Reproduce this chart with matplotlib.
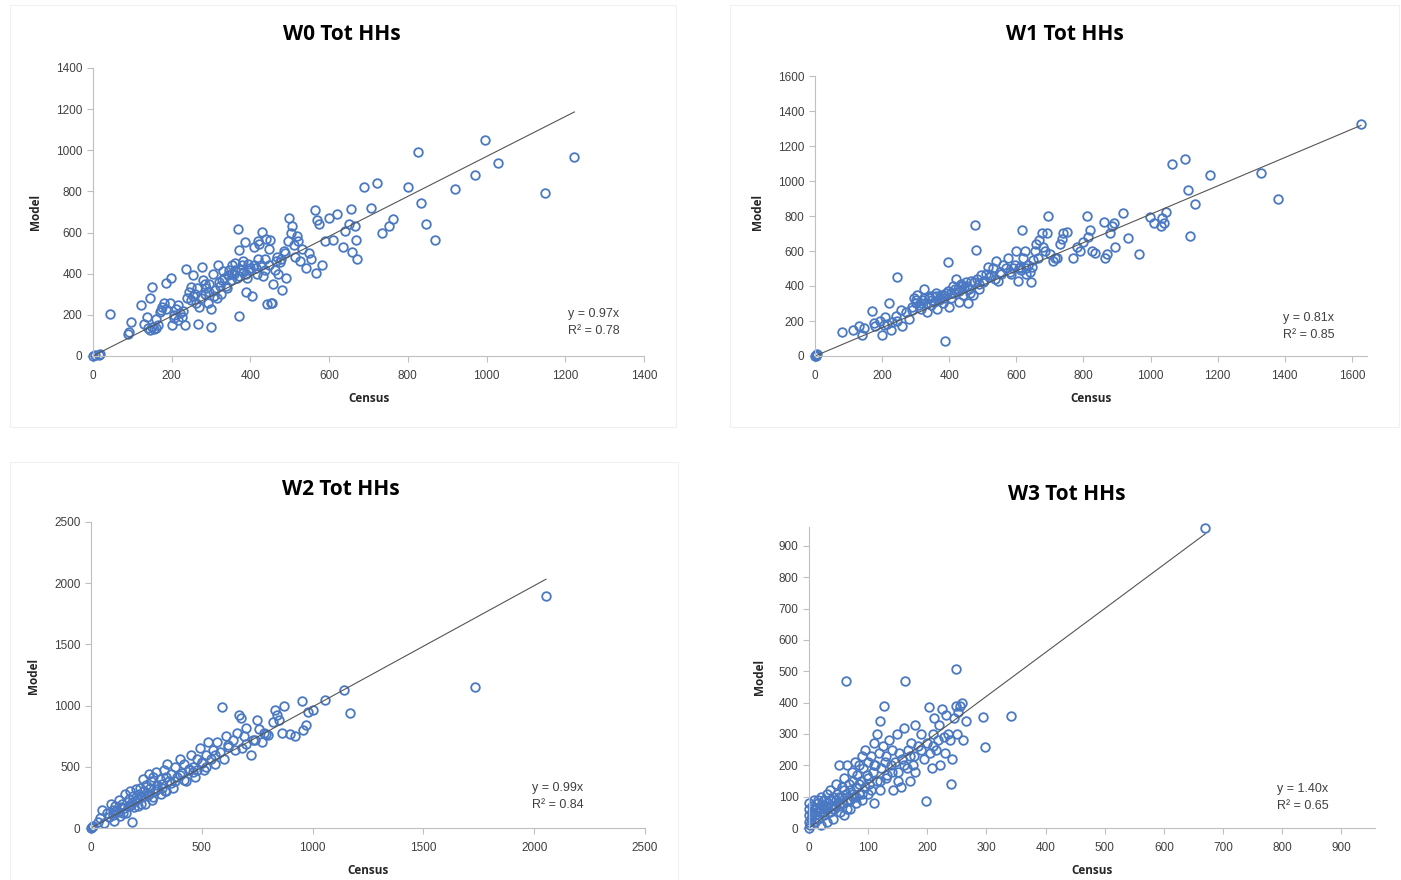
import matplotlib
matplotlib.use("Agg")
import matplotlib.pyplot as plt
from matplotlib.patches import Rectangle

W, H = 1401, 880

# ---- data (census, model) ----
w0_census = [0, 5, 15, 18, 43, 89, 92, 96, 121, 130, 140, 145, 150, 155, 160, 165, 150, 146, 136, 170,
             175, 180, 172, 186, 197, 200, 205, 210, 215, 220, 225, 233, 237, 240, 245, 250, 258, 253, 262, 266,
             270, 278, 280, 284, 288, 292, 296, 300, 301, 305, 310, 314, 318, 320, 325, 330, 334, 338, 342, 346,
             350, 354, 358, 362, 366, 368, 370, 372, 375, 378, 382, 385, 388, 390, 395, 400, 405, 410, 414, 418,
             420, 423, 430, 432, 436, 440, 443, 446, 450, 452, 456, 458, 462, 466, 470, 475, 480, 485, 490, 495,
             499, 503, 506, 510, 514, 518, 522, 526, 530, 540, 548, 555, 565, 567, 570, 575, 582, 590, 600, 610,
             620, 635, 640, 651, 656, 658, 666, 668, 671, 689, 706, 722, 734, 752, 762, 800, 825, 833, 846, 868,
             919, 970, 997, 1028, 1149, 1223,
             160, 185, 195, 205, 215, 228, 248, 255, 265, 275, 285, 295, 308, 322, 328, 340, 352, 360, 372, 380,
             392, 398, 408, 416, 428, 438, 448, 468, 478, 488]
w0_model = [0, 3, 5, 8, 204, 107, 118, 165, 248, 156, 135, 128, 140, 130, 136, 150, 337, 282, 191, 213,
            240, 257, 226, 355, 379, 150, 200, 230, 175, 210, 190, 151, 421, 282, 310, 335, 300, 394, 260, 156,
            240, 434, 370, 300, 330, 260, 350, 230, 141, 400, 320, 280, 440, 360, 300, 415, 380, 340, 395, 420,
            370, 440, 400, 450, 380, 616, 515, 194, 420, 440, 460, 554, 400, 310, 445, 430, 290, 530, 426, 560,
            470, 545, 604, 390, 470, 570, 253, 520, 565, 256, 258, 350, 420, 460, 400, 455, 320, 510, 380, 560,
            671, 600, 630, 540, 480, 583, 560, 460, 520, 430, 500, 470, 710, 403, 660, 640, 442, 559, 670, 564,
            690, 530, 610, 642, 715, 506, 632, 564, 472, 822, 720, 841, 598, 632, 666, 822, 992, 744, 642, 564,
            812, 880, 1050, 938, 792, 967,
            180, 230, 260, 185, 250, 220, 270, 290, 330, 280, 350, 310, 290, 340, 370, 330, 400, 420, 390, 410,
            380, 420, 440, 400, 440, 420, 440, 480, 470, 500]

w1_census = [0, 3, 5, 2, 80, 113, 131, 140, 145, 170, 175, 180, 195, 200, 205, 210, 215, 220, 225, 230,
             240, 245, 245, 255, 260, 270, 280, 290, 295, 300, 305, 310, 315, 320, 325, 330, 335, 340, 345, 350,
             355, 360, 365, 370, 375, 380, 385, 387, 390, 396, 400, 405, 410, 415, 420, 425, 430, 435, 440, 445,
             450, 455, 460, 465, 470, 477, 480, 482, 490, 495, 500, 510, 515, 520, 530, 540, 545, 550, 560, 570,
             575, 585, 595, 600, 605, 610, 615, 617, 620, 625, 630, 635, 640, 645, 650, 655, 660, 668, 675, 680,
             690, 694, 700, 710, 720, 730, 735, 740, 750, 770, 780, 790, 800, 810, 815, 820, 825, 835, 861, 865,
             870, 880, 885, 890, 895, 918, 933, 965, 998, 1010, 1030, 1034, 1040, 1045, 1064, 1102, 1111, 1117,
             1132, 1177, 1329, 1380, 1627,
             290, 300, 315, 325, 340, 350, 362, 372, 385, 395, 405, 418, 428, 438, 452, 462, 475, 488, 505, 525,
             535, 555, 580, 590, 608, 628, 648, 665, 685, 715]
w1_model = [0, 5, 10, 2, 137, 149, 171, 120, 160, 257, 190, 170, 200, 120, 175, 220, 180, 300, 150, 195,
            230, 200, 450, 260, 170, 250, 210, 260, 330, 300, 350, 290, 270, 320, 380, 300, 250, 330, 290, 340,
            310, 360, 270, 320, 350, 300, 330, 86, 360, 537, 280, 330, 400, 360, 440, 380, 310, 410, 350, 390,
            420, 300, 380, 430, 350, 749, 606, 440, 380, 460, 420, 470, 510, 450, 500, 540, 430, 480, 520, 500,
            560, 470, 520, 600, 430, 510, 490, 720, 560, 600, 470, 520, 480, 420, 550, 600, 640, 660, 700, 620,
            700, 800, 580, 540, 560, 640, 670, 700, 710, 560, 620, 600, 650, 800, 680, 720, 600, 590, 766, 560,
            580, 700, 740, 760, 620, 817, 674, 583, 794, 760, 740, 789, 760, 820, 1097, 1126, 949, 686,
            869, 1034, 1046, 897, 1326,
            280, 320, 300, 330, 340, 320, 340, 330, 350, 370, 360, 380, 370, 400, 400, 360, 420, 410, 430, 460,
            440, 470, 480, 500, 500, 500, 510, 560, 600, 560]

w2_census = [0, 5, 10, 30, 40, 50, 60, 70, 80, 90, 100, 105, 110, 120, 125, 130, 140, 150, 155, 160,
             170, 175, 180, 185, 190, 200, 205, 210, 215, 220, 230, 235, 240, 245, 250, 255, 260, 265, 270, 275,
             280, 290, 295, 300, 310, 315, 320, 330, 335, 340, 345, 350, 360, 370, 380, 390, 400, 410, 420, 430,
             440, 450, 460, 470, 480, 490, 500, 510, 520, 530, 540, 550, 560, 570, 580, 590, 600, 610, 620, 640,
             660, 670, 675, 680, 690, 700, 720, 730, 750, 760, 770, 780, 800, 820, 830, 840, 850, 860, 870, 900,
             920, 950, 955, 970, 980, 1000, 1056, 1142, 1169, 1733, 2053,
             100, 115, 135, 145, 165, 185, 195, 210, 225, 240, 260, 280, 300, 320, 340, 360, 380, 400, 420, 440,
             460, 480, 500, 520, 560, 620, 650, 700, 740, 790]
w2_model = [0, 10, 20, 50, 80, 150, 40, 120, 90, 200, 150, 60, 180, 130, 230, 100, 200, 160, 280, 120,
            240, 300, 190, 50, 260, 220, 320, 180, 280, 330, 250, 400, 300, 200, 350, 270, 440, 330, 380, 230,
            420, 300, 460, 350, 400, 280, 360, 470, 300, 420, 520, 380, 440, 330, 500, 420, 560, 450, 520, 380,
            480, 600, 500, 420, 560, 650, 530, 470, 600, 700, 560, 640, 520, 700, 620, 989, 560, 750, 680, 720,
            780, 920, 900, 650, 750, 820, 600, 720, 880, 810, 700, 780, 760, 870, 960, 920, 880, 780, 1000, 770,
            750, 1040, 800, 840, 950, 960, 1046, 1127, 940, 1152, 1895,
            110, 140, 170, 120, 180, 210, 170, 240, 200, 260, 280, 250, 320, 330, 300, 370, 380, 430, 390, 470,
            460, 470, 540, 500, 600, 660, 640, 690, 720, 770]

w3_census = [0, 0, 0, 0, 0, 2, 3, 5, 5, 8, 10, 10, 12, 15, 15, 18, 20, 20, 22, 25,
             25, 28, 30, 30, 32, 35, 35, 38, 40, 40, 42, 45, 45, 48, 50, 50, 52, 55, 55, 58,
             60, 60, 62, 63, 65, 65, 68, 70, 70, 72, 75, 75, 78, 80, 80, 82, 85, 85, 88, 90,
             90, 92, 95, 95, 98, 100, 100, 102, 105, 108, 110, 110, 112, 115, 115, 118, 120, 120, 122, 125,
             127, 128, 130, 132, 135, 138, 140, 142, 145, 148, 150, 152, 155, 158, 160, 162, 165, 168, 170, 172,
             175, 178, 180, 185, 190, 195, 198, 200, 203, 205, 208, 210, 212, 215, 218, 220, 222, 225, 228, 230,
             232, 235, 238, 240, 242, 245, 248, 249, 250, 252, 255, 258, 260, 265, 294, 298, 342, 670,
             5, 10, 15, 20, 25, 30, 35, 40, 45, 50, 55, 60, 65, 70, 75, 80, 85, 90, 100, 105,
             110, 120, 130, 140, 150, 160, 170, 180, 190, 210]
w3_model = [0, 20, 40, 60, 80, 10, 30, 50, 70, 90, 20, 40, 60, 30, 80, 50, 100, 10, 70, 40,
            90, 60, 110, 20, 80, 50, 120, 70, 100, 30, 60, 90, 140, 110, 70, 200, 50, 100, 130, 80,
            160, 40, 110, 469, 90, 200, 140, 120, 60, 180, 100, 150, 210, 130, 80, 170, 110, 200, 150, 230,
            90, 190, 130, 250, 170, 210, 110, 140, 230, 180, 80, 270, 200, 300, 150, 240, 340, 120, 190, 260,
            389, 210, 230, 170, 280, 200, 250, 120, 210, 300, 180, 240, 130, 220, 320, 469, 190, 250, 150, 270,
            200, 230, 330, 260, 300, 220, 85, 270, 386, 240, 190, 300, 350, 250, 280, 330, 200, 380, 290, 240,
            360, 300, 280, 140, 220, 350, 390, 507, 300, 370, 390, 400, 280, 340, 354, 258, 357, 957,
            40, 60, 90, 60, 50, 70, 90, 60, 70, 100, 80, 120, 60, 90, 110, 100, 140, 110, 160, 120,
            200, 150, 160, 180, 150, 200, 230, 180, 250, 260]

titles = ["W0 Tot HHs", "W1 Tot HHs", "W2 Tot HHs", "W3 Tot HHs"]
slopes = [0.97, 0.81, 0.99, 1.40]
r2 = ["0.78", "0.85", "0.84", "0.65"]


def fx(x):
    return x / W


def fy(y):
    return 1 - y / H


plt.rcParams['font.family'] = ['Liberation Sans Narrow', 'Liberation Sans', 'DejaVu Sans']
fig = plt.figure(figsize=(W / 100, H / 100), dpi=100)

# faint panel frames (pixel boxes)
for (x0, y0, x1, y1) in [(10, 5, 676, 427), (730, 5, 1399, 427), (10, 462, 678, 880)]:
    fig.add_artist(Rectangle((fx(x0), fy(y1)), fx(x1 - x0), (y1 - y0) / H, transform=fig.transFigure,
                             fill=False, ec='#F0F0F0', lw=0.8))

# axes placement in pixels: left, right, top, bottom ; limits ; ticks
panels = [
    dict(box=(93, 644, 68, 356), xlim=1400, ylim=1400, xt=range(0, 1401, 200), yt=range(0, 1401, 200),
         title=(342, 34), model=(36, 212), census=(369, 399), eq=(0.862, 0.146, 0.087),
         x=w0_census, y=w0_model),
    dict(box=(815, 1367, 76, 356), xlim=1645, ylim=1600, xt=range(0, 1601, 200), yt=range(0, 1601, 200),
         title=(1065, 34), model=(757, 212), census=(1091, 399), eq=(0.848, 0.136, 0.075),
         x=w1_census, y=w1_model),
    dict(box=(91, 645, 522, 828), xlim=2500, ylim=2500, xt=range(0, 2501, 500), yt=range(0, 2501, 500),
         title=(341, 489), model=(33, 676), census=(368, 870), eq=(0.796, 0.131, 0.075),
         x=w2_census, y=w2_model),
    dict(box=(809, 1375, 527, 828), xlim=957, ylim=960, xt=range(0, 901, 100), yt=range(0, 901, 100),
         title=(1067, 494), model=(760, 677), census=(1092, 870), eq=(0.827, 0.130, 0.073),
         x=w3_census, y=w3_model),
]

for i, p in enumerate(panels):
    l, r, t, b = p['box']
    ax = fig.add_axes([fx(l), fy(b), (r - l) / W, (b - t) / H])
    ax.set_xlim(0, p['xlim'])
    ax.set_ylim(0, p['ylim'])
    ax.set_xticks(list(p['xt']))
    ax.set_yticks(list(p['yt']))
    for s in ['top', 'right']:
        ax.spines[s].set_visible(False)
    for s in ['left', 'bottom']:
        ax.spines[s].set_color('#BFBFBF')
        ax.spines[s].set_linewidth(0.8)
    ax.tick_params(colors='#BFBFBF', labelcolor='#404040', labelsize=8.5, length=4, width=0.8, direction='out')
    ax.tick_params(axis='x', pad=6)
    ax.patch.set_alpha(0)

    ax.plot(p['x'], p['y'], 'o', ms=6.2, mfc='none', mec='#4A78C2', mew=1.3, clip_on=False)
    xmax = max(p['x'])
    ax.plot([0, xmax], [0, slopes[i] * xmax], color='#555555', lw=0.8)

    ex, ey1, ey2 = p['eq']
    ax.text(ex, ey1, "y = %.2fx" % slopes[i], transform=ax.transAxes, fontsize=9, color='#404040',
            va='center', ha='left')
    ax.text(ex, ey2, "R² = " + r2[i], transform=ax.transAxes, fontsize=9, color='#404040',
            va='center', ha='left')

    fig.text(fx(p['title'][0]), fy(p['title'][1]), titles[i], ha='center', va='center',
             fontsize=15, fontweight='bold', family=['Open Sans', 'DejaVu Sans'])
    fig.text(fx(p['model'][0]), fy(p['model'][1]), "Model", ha='center', va='center', rotation=90,
             fontsize=8.5, fontweight='bold', family=['Open Sans', 'DejaVu Sans'], color='#262626')
    fig.text(fx(p['census'][0]), fy(p['census'][1]), "Census", ha='center', va='center',
             fontsize=8.5, fontweight='bold', family=['Open Sans', 'DejaVu Sans'], color='#262626')

fig.savefig("out.png", dpi=100, facecolor='white')
